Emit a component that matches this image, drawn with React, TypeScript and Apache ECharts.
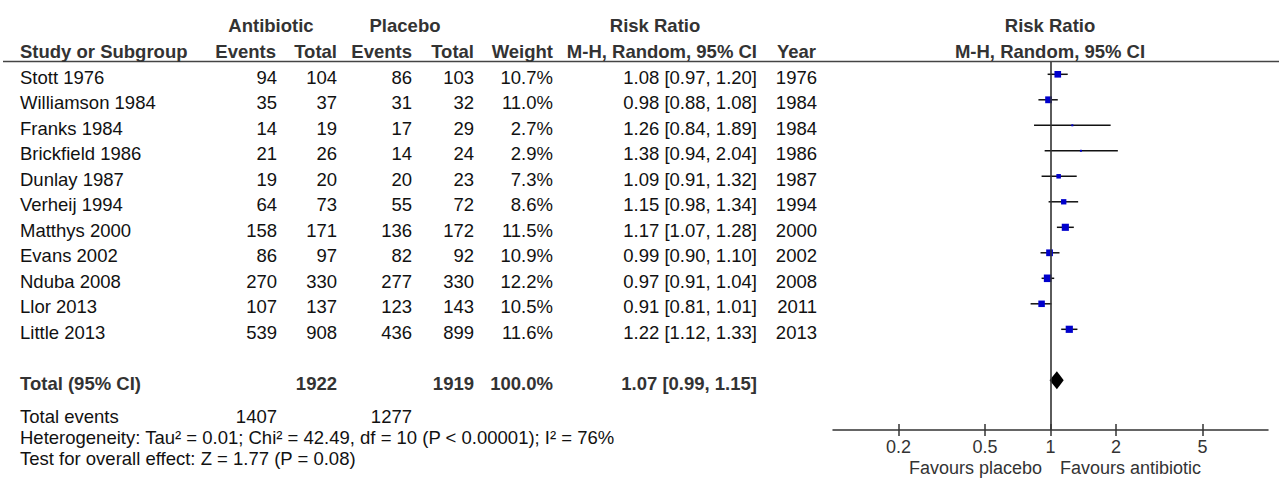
import React, { useEffect, useRef } from 'react';
import * as echarts from 'echarts';

const studies = ['Stott 1976', 'Williamson 1984', 'Franks 1984', 'Brickfield 1986', 'Dunlay 1987', 'Verheij 1994', 'Matthys 2000', 'Evans 2002', 'Nduba 2008', 'Llor 2013', 'Little 2013'];
const antibioticEvents = [94, 35, 14, 21, 19, 64, 158, 86, 270, 107, 539];
const antibioticTotal = [104, 37, 19, 26, 20, 73, 171, 97, 330, 137, 908];
const placeboEvents = [86, 31, 17, 14, 20, 55, 136, 82, 277, 123, 436];
const placeboTotal = [103, 32, 29, 24, 23, 72, 172, 92, 330, 143, 899];
const weights = [10.7, 11.0, 2.7, 2.9, 7.3, 8.6, 11.5, 10.9, 12.2, 10.5, 11.6];
const riskRatio = [1.08, 0.98, 1.26, 1.38, 1.09, 1.15, 1.17, 0.99, 0.97, 0.91, 1.22];
const ciLower = [0.97, 0.88, 0.84, 0.94, 0.91, 0.98, 1.07, 0.90, 0.91, 0.81, 1.12];
const ciUpper = [1.20, 1.08, 1.89, 2.04, 1.32, 1.34, 1.28, 1.10, 1.04, 1.01, 1.33];
const years = [1976, 1984, 1984, 1986, 1987, 1994, 2000, 2002, 2008, 2011, 2013];

const totalAntibiotic = 1922;
const totalPlacebo = 1919;
const totalWeight = 100.0;
const pooledRR = 1.07;
const pooledLower = 0.99;
const pooledUpper = 1.15;
const totalEventsAntibiotic = 1407;
const totalEventsPlacebo = 1277;
const heterogeneityText = 'Heterogeneity: Tau\u00b2 = 0.01; Chi\u00b2 = 42.49, df = 10 (P < 0.00001); I\u00b2 = 76%';
const overallEffectText = 'Test for overall effect: Z = 1.77 (P = 0.08)';
const axisTicks = [0.2, 0.5, 1, 2, 5];
const favoursLeft = 'Favours placebo';
const favoursRight = 'Favours antibiotic';

// layout
const FONT = '"Liberation Sans", Arial, sans-serif';
const FS = 18.5;
const TXT = '#111';
const HDR = '#333';
const COL = { name: 20, evA: 277, totA: 337, evP: 412, totP: 474, weight: 553, ci: 757, year: 817 };
const Y_MIN = -0.482;
const Y_MAX = 13.949;
const TEXT_DY = 3;

const fmtCI = (r: number, l: number, u: number) => `${r.toFixed(2)} [${l.toFixed(2)}, ${u.toFixed(2)}]`;

function txt(text: string, x: number, y: number, align: string, bold = false, color = TXT, size = FS) {
  return {
    type: 'text',
    x,
    y,
    silent: true,
    style: {
      text,
      align,
      verticalAlign: 'middle',
      fontSize: size,
      fontWeight: bold ? 'bold' : 'normal',
      fontFamily: FONT,
      fill: color,
    },
  };
}

export default function App() {
  const ref = useRef<HTMLDivElement>(null);
  useEffect(() => {
    if (!ref.current) return;
    const chart = echarts.init(ref.current, null, { renderer: 'svg' });
    const totalRow = studies.length + 1;

    const tickStyle = { color: '#333', width: 1.5 };
    const option: any = {
      animation: false,
      backgroundColor: '#fff',
      grid: [
        { left: 0, top: 62, width: 833, height: 368 },
        { left: 833, top: 62, right: 11, height: 368 },
      ],
      xAxis: [
        { gridIndex: 0, type: 'value', min: 0, max: 833, show: false },
        {
          gridIndex: 1,
          type: 'log',
          logBase: 10,
          min: 0.1,
          max: 10,
          position: 'bottom',
          axisLine: { show: true, onZero: false, lineStyle: { color: '#333', width: 1.5 } },
          axisTick: { show: true, customValues: axisTicks, length: 6, lineStyle: tickStyle },
          axisLabel: {
            show: true,
            customValues: axisTicks,
            color: '#333',
            fontSize: 18,
            fontFamily: FONT,
            margin: 8,
            formatter: (v: number) => String(+Number(v).toPrecision(3)),
          },
          splitLine: { show: false },
          minorTick: { show: false },
        },
        {
          gridIndex: 1,
          type: 'log',
          logBase: 10,
          min: 0.1,
          max: 10,
          position: 'bottom',
          axisLine: { show: false, onZero: false },
          axisTick: { show: true, inside: true, customValues: axisTicks, length: 6, lineStyle: tickStyle },
          axisLabel: { show: false },
          splitLine: { show: false },
        },
      ],
      yAxis: [
        { gridIndex: 0, type: 'value', inverse: true, min: Y_MIN, max: Y_MAX, show: false },
        { gridIndex: 1, type: 'value', inverse: true, min: Y_MIN, max: Y_MAX, show: false },
      ],
      graphic: [
        { type: 'line', silent: true, shape: { x1: 3, y1: 61.5, x2: 1279, y2: 61.5 }, style: { stroke: '#444', lineWidth: 1.5 } },
        txt('Antibiotic', 271, 25, 'center', true, HDR),
        txt('Placebo', 405, 25, 'center', true, HDR),
        txt('Risk Ratio', 655, 25, 'center', true, HDR),
        txt('Risk Ratio', 1050, 25, 'center', true, HDR),
        txt('Study or Subgroup', COL.name, 51, 'left', true, HDR),
        txt('Events', COL.evA - 1, 51, 'right', true, HDR),
        txt('Total', COL.totA, 51, 'right', true, HDR),
        txt('Events', COL.evP, 51, 'right', true, HDR),
        txt('Total', COL.totP, 51, 'right', true, HDR),
        txt('Weight', COL.weight, 51, 'right', true, HDR),
        txt('M-H, Random, 95% CI', COL.ci, 51, 'right', true, HDR),
        txt('Year', COL.year - 1, 51, 'right', true, HDR),
        txt('M-H, Random, 95% CI', 1050, 51, 'center', true, HDR),
        txt('Total events', COL.name, 416, 'left'),
        txt(String(totalEventsAntibiotic), COL.evA, 416, 'right'),
        txt(String(totalEventsPlacebo), COL.evP, 416, 'right'),
        txt(heterogeneityText, COL.name, 437, 'left'),
        txt(overallEffectText, COL.name, 458, 'left'),
        txt(favoursLeft, 1042, 468, 'right', false, '#333', 18),
        txt(favoursRight, 1060, 468, 'left', false, '#333', 18),
      ],
      series: [
        {
          type: 'custom',
          name: 'table',
          xAxisIndex: 0,
          yAxisIndex: 0,
          clip: false,
          silent: true,
          data: studies.map((_, i) => [0, i]),
          renderItem: (params: any, api: any) => {
            const i = params.dataIndex;
            const y = api.coord([0, i])[1] + TEXT_DY;
            const cx = (v: number) => api.coord([v, i])[0];
            return {
              type: 'group',
              children: [
                txt(studies[i], cx(COL.name), y, 'left'),
                txt(String(antibioticEvents[i]), cx(COL.evA), y, 'right'),
                txt(String(antibioticTotal[i]), cx(COL.totA), y, 'right'),
                txt(String(placeboEvents[i]), cx(COL.evP), y, 'right'),
                txt(String(placeboTotal[i]), cx(COL.totP), y, 'right'),
                txt(`${weights[i].toFixed(1)}%`, cx(COL.weight), y, 'right'),
                txt(fmtCI(riskRatio[i], ciLower[i], ciUpper[i]), cx(COL.ci), y, 'right'),
                txt(String(years[i]), cx(COL.year), y, 'right'),
              ],
            };
          },
        },
        {
          type: 'custom',
          name: 'totalRow',
          xAxisIndex: 0,
          yAxisIndex: 0,
          clip: false,
          silent: true,
          data: [[0, totalRow]],
          renderItem: (params: any, api: any) => {
            const y = api.coord([0, totalRow])[1] + TEXT_DY;
            const cx = (v: number) => api.coord([v, totalRow])[0];
            return {
              type: 'group',
              children: [
                txt('Total (95% CI)', cx(COL.name), y, 'left', true, HDR),
                txt(String(totalAntibiotic), cx(COL.totA), y, 'right', true, HDR),
                txt(String(totalPlacebo), cx(COL.totP), y, 'right', true, HDR),
                txt(`${totalWeight.toFixed(1)}%`, cx(COL.weight), y, 'right', true, HDR),
                txt(fmtCI(pooledRR, pooledLower, pooledUpper), cx(COL.ci), y, 'right', true, HDR),
              ],
            };
          },
        },
        {
          type: 'custom',
          name: 'studies',
          xAxisIndex: 1,
          yAxisIndex: 1,
          clip: false,
          silent: true,
          data: studies.map((_, i) => [riskRatio[i], i, ciLower[i], ciUpper[i], weights[i]]),
          encode: { x: 0, y: 1 },
          renderItem: (params: any, api: any) => {
            const row = api.value(1);
            const c = api.coord([api.value(0), row]);
            const lo = api.coord([api.value(2), row]);
            const hi = api.coord([api.value(3), row]);
            const s = Math.max(2, api.value(4) * 0.62);
            return {
              type: 'group',
              children: [
                { type: 'line', shape: { x1: lo[0], y1: c[1], x2: hi[0], y2: c[1] }, style: { stroke: '#111', lineWidth: 1.5 } },
                { type: 'rect', shape: { x: c[0] - s / 2, y: c[1] - s / 2, width: s, height: s }, style: { fill: '#0000cc' } },
              ],
            };
          },
          markLine: {
            silent: true,
            symbol: 'none',
            label: { show: false },
            lineStyle: { color: '#333', width: 1.6, type: 'solid' },
            data: [{ xAxis: 1 }],
          },
        },
        {
          type: 'custom',
          name: 'pooled',
          xAxisIndex: 1,
          yAxisIndex: 1,
          clip: false,
          silent: true,
          data: [[pooledRR, totalRow, pooledLower, pooledUpper]],
          encode: { x: 0, y: 1 },
          renderItem: (params: any, api: any) => {
            const row = api.value(1);
            const c = api.coord([api.value(0), row]);
            const lo = api.coord([api.value(2), row]);
            const hi = api.coord([api.value(3), row]);
            const h = 9;
            return {
              type: 'polygon',
              shape: { points: [[lo[0], c[1]], [c[0], c[1] - h], [hi[0], c[1]], [c[0], c[1] + h]] },
              style: { fill: '#000' },
            };
          },
        },
      ],
    };
    chart.setOption(option);
    return () => chart.dispose();
  }, []);
  return (
    <div
      ref={ref}
      style={{ position: 'fixed', left: 0, top: 0, width: 1279, height: 478, background: '#fff' }}
    />
  );
}
